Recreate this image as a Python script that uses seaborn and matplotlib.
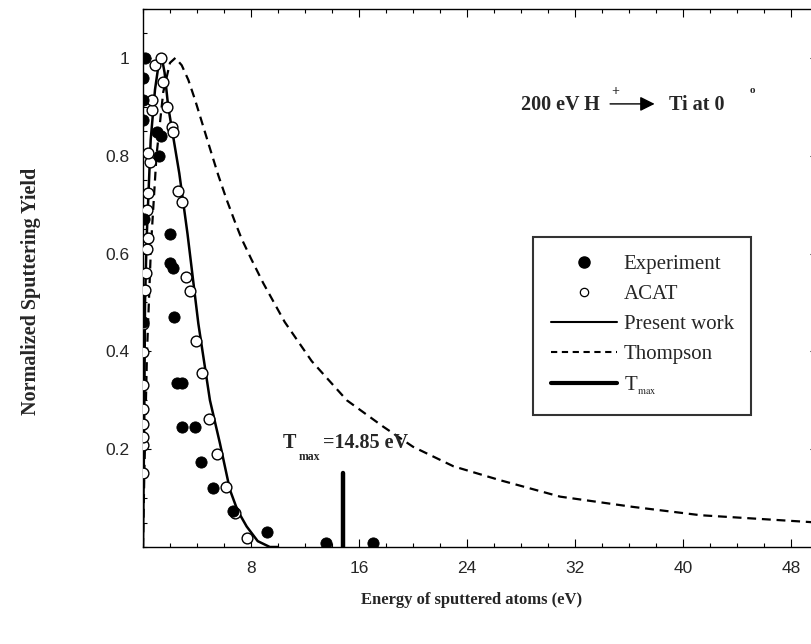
import matplotlib
matplotlib.use('Agg')
import matplotlib.pyplot as plt
from matplotlib.lines import Line2D
from matplotlib.ticker import MultipleLocator, FuncFormatter
import seaborn as sns

# experiment (filled dots)
exp_x = [0.15, 0.0, 0.0, 0.0, 1.05, 1.35, 1.2, 2.0, 2.0, 2.24, 0.05, 0.0,
         2.32, 2.5, 2.87, 2.87, 3.85, 4.3, 5.16, 6.69, 9.2, 13.56, 17.06]
exp_y = [1.0, 0.958, 0.914, 0.873, 0.848, 0.84, 0.80, 0.641, 0.58, 0.57, 0.67, 0.46,
         0.47, 0.335, 0.336, 0.246, 0.245, 0.174, 0.12, 0.074, 0.030, 0.009, 0.009]

# ACAT (open circles)
acat_x = [0.0, 0.0, 0.0, 0.0, 0.0, 0.0, 0.0, 0.0, 0.15, 0.22, 0.3, 0.4, 0.27, 0.4,
          0.52, 0.4, 0.64, 0.64, 0.89, 1.3, 1.5, 1.75, 2.12, 2.25, 2.62, 2.87,
          3.19, 3.48, 3.93, 4.35, 4.9, 5.5, 6.12, 6.81, 7.68]
acat_y = [0.152, 0.209, 0.225, 0.252, 0.282, 0.331, 0.399, 0.457, 0.525, 0.56, 0.61,
          0.632, 0.689, 0.723, 0.788, 0.805, 0.894, 0.914, 0.986, 1.0, 0.95, 0.90,
          0.858, 0.849, 0.727, 0.706, 0.553, 0.524, 0.422, 0.356, 0.262, 0.19,
          0.123, 0.069, 0.018]

# present work (solid)
pw_x = [0.0, 0.1, 0.15, 0.27, 0.57, 0.89, 1.15, 1.4, 1.6, 1.87, 2.69, 3.3, 4.1,
        4.96, 5.7, 6.44, 7.0, 7.68, 8.5, 9.4, 10.0]
pw_y = [0.0, 0.28, 0.5, 0.63, 0.832, 0.935, 0.985, 1.0, 0.97, 0.90, 0.764, 0.64,
        0.457, 0.30, 0.212, 0.117, 0.075, 0.042, 0.012, 0.0, 0.0]

# Thompson (dashed)
th_x = [0.0, 0.1, 0.3, 0.6, 1.0, 1.5, 2.0, 2.4, 2.87, 3.36, 3.85, 4.35, 4.96, 5.58,
        6.2, 6.81, 7.31, 8.0, 8.9, 10.5, 12.5, 15.1, 17.8, 20.0, 23.0, 26.4, 30.9,
        36.3, 41.3, 50.0]
th_y = [0.0, 0.15, 0.4, 0.62, 0.8, 0.93, 0.99, 1.0, 0.985, 0.955, 0.915, 0.87,
        0.815, 0.76, 0.71, 0.665, 0.63, 0.59, 0.54, 0.46, 0.38, 0.30, 0.246, 0.205,
        0.165, 0.137, 0.103, 0.082, 0.065, 0.05]

# T_max marker
tmax_x = [14.85, 14.85]
tmax_y = [0.0, 0.152]

x_ticks = [8, 16, 24, 32, 40, 48]
y_ticks = [0.2, 0.4, 0.6, 0.8, 1.0]

sns.set_style('ticks')
plt.rcParams['font.family'] = ['Liberation Sans', 'DejaVu Sans']
plt.rcParams['mathtext.fontset'] = 'stix'
serif = ['Liberation Serif', 'DejaVu Serif']

fig = plt.figure(figsize=(8.11, 6.44), dpi=100)
ax = fig.add_axes([0.1763, 0.1506, 0.8323, 0.8354])

sns.lineplot(x=th_x, y=th_y, ax=ax, color='black', lw=1.6,
             linestyle=(0, (4, 2.6)), estimator=None, sort=False)
sns.lineplot(x=pw_x, y=pw_y, ax=ax, color='black', lw=1.8,
             estimator=None, sort=False)
sns.lineplot(x=tmax_x, y=tmax_y, ax=ax, color='black', lw=3.2,
             estimator=None, sort=False)
sns.scatterplot(x=acat_x, y=acat_y, ax=ax, marker='o', s=60,
                facecolor='white', edgecolor='black', linewidth=1.0, zorder=3)
sns.scatterplot(x=exp_x, y=exp_y, ax=ax, marker='o', s=65,
                color='black', edgecolor='black', zorder=4)

ax.set_xlim(0, 50)
ax.set_ylim(0, 1.1)
ax.set_xticks(x_ticks)
ax.set_yticks(y_ticks)
ax.xaxis.set_minor_locator(MultipleLocator(2))
ax.yaxis.set_minor_locator(MultipleLocator(0.05))
ax.yaxis.set_major_formatter(FuncFormatter(lambda v, p: f'{v:g}'))
ax.tick_params(which='both', direction='in', top=True, right=True,
               labelsize=12.5, color='black', width=0.8)
ax.tick_params(which='major', length=6, pad=10)
ax.tick_params(which='minor', length=3)
for sp in ax.spines.values():
    sp.set_visible(True)
    sp.set_color('black')
    sp.set_linewidth(1.0)

fig.text(0.582, 0.068, 'Energy of sputtered atoms (eV)', ha='center', va='center',
         family=serif, weight='bold', fontsize=12)
fig.text(0.038, 0.547, 'Normalized Sputtering Yield', ha='center', va='center',
         rotation=90, family=serif, weight='bold', fontsize=14.5)

# T_max annotation
ax.text(10.37, 0.202, 'T', family=serif, weight='bold', fontsize=14.5,
        ha='left', va='baseline')
ax.text(11.5, 0.178, 'max', family=serif, weight='bold', fontsize=8.5,
        ha='left', va='baseline')
ax.text(13.33, 0.202, '=14.85 eV', family=serif, weight='bold', fontsize=14.5,
        ha='left', va='baseline')

# beam / target annotation
ax.text(28.0, 0.893, '200 eV H', family=serif, weight='bold', fontsize=14.5,
        ha='left', va='baseline')
ax.text(34.7, 0.924, '+', family=serif, weight='bold', fontsize=10,
        ha='left', va='baseline')
ax.annotate('', xy=(37.9, 0.906), xytext=(34.6, 0.906),
            arrowprops=dict(arrowstyle='-|>', color='black', lw=1.0,
                            mutation_scale=22, shrinkA=0, shrinkB=0))
ax.text(38.96, 0.893, 'Ti at 0', family=serif, weight='bold', fontsize=14.5,
        ha='left', va='baseline')
ax.text(44.9, 0.929, 'o', family=serif, weight='bold', fontsize=8,
        ha='left', va='baseline')

handles = [
    Line2D([], [], marker='o', color='black', linestyle='none', markersize=8),
    Line2D([], [], marker='o', markerfacecolor='white', markeredgecolor='black',
           linestyle='none', markersize=6, markeredgewidth=0.9),
    Line2D([], [], color='black', lw=1.5),
    Line2D([], [], color='black', lw=1.5, linestyle=(0, (3, 2.2))),
    Line2D([], [], color='black', lw=3),
]
labels = ['Experiment', 'ACAT', 'Present work', 'Thompson', r'T$_{_{\mathrm{max}}}$']
leg = ax.legend(handles, labels, loc='upper left', bbox_to_anchor=(0.5778, 0.5762),
                prop={'family': serif, 'size': 15}, frameon=True, fancybox=False,
                edgecolor='black', handlelength=3.2, handletextpad=0.3,
                labelspacing=0.5, borderpad=0.85, borderaxespad=0)
leg.get_frame().set_linewidth(1.5)

fig.savefig('out.png', dpi=100)
